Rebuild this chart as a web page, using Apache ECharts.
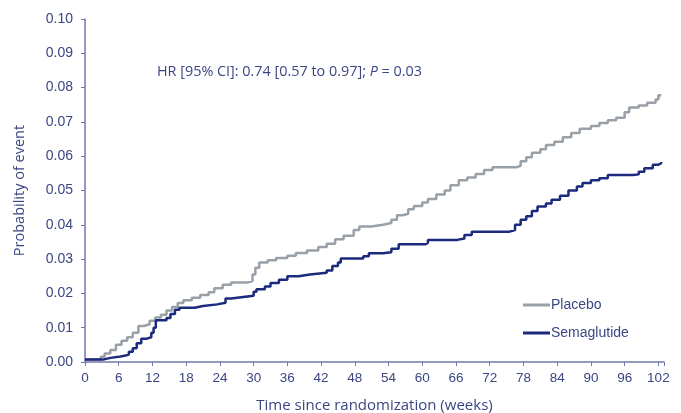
<!DOCTYPE html>
<html>
<head>
<meta charset="utf-8">
<script src="https://cdn.jsdelivr.net/npm/echarts@6/dist/echarts.min.js"></script>
<style>
html,body{margin:0;padding:0;background:#fff;}
#chart{width:681px;height:413px;}
</style>
</head>
<body>
<div id="chart"></div>
<script>
// Tick values
var xTicks = [0, 6, 12, 18, 24, 30, 36, 42, 48, 54, 60, 66, 72, 78, 84, 90, 96, 102];
var yTicks = [0.00, 0.01, 0.02, 0.03, 0.04, 0.05, 0.06, 0.07, 0.08, 0.09, 0.10];

// Placebo (Kaplan-Meier steps: week, cumulative probability)
var placeboWeeks = [0, 2.8, 3.5, 4.5, 5.5, 6.5, 7.5, 8.5, 9.5, 10.5, 11.5, 12.5, 13.5, 14.5, 15.5, 16.5, 17.5, 19, 20.5, 22, 23, 24.5, 26, 29, 29.8, 30.3, 31, 32.5, 34, 36, 37.5, 39.5, 41.5, 43, 44.5, 46, 47.8, 48.8, 51, 53, 54.5, 55.5, 56.5, 57.5, 58.5, 60, 61, 62.5, 64, 65, 66.5, 68, 69.5, 71, 72.5, 76.8, 77.5, 78.5, 79.5, 81, 82, 83.5, 85, 86.5, 88, 90, 91.5, 93, 94.5, 96, 96.8, 98.5, 100, 101.5, 102, 102.5];
var placeboProb = [0.0007, 0.0015, 0.0025, 0.0035, 0.0050, 0.0062, 0.0072, 0.0085, 0.0105, 0.0110, 0.0120, 0.0130, 0.0138, 0.0150, 0.0160, 0.0172, 0.0180, 0.0187, 0.0195, 0.0203, 0.0215, 0.0225, 0.0232, 0.0236, 0.0255, 0.0275, 0.0290, 0.0297, 0.0303, 0.0310, 0.0318, 0.0325, 0.0335, 0.0345, 0.0358, 0.0368, 0.0385, 0.0395, 0.0400, 0.0405, 0.0415, 0.0428, 0.0432, 0.0445, 0.0455, 0.0465, 0.0475, 0.0488, 0.0500, 0.0515, 0.0530, 0.0538, 0.0548, 0.0560, 0.0568, 0.0572, 0.0585, 0.0597, 0.0610, 0.0620, 0.0633, 0.0642, 0.0655, 0.0668, 0.0680, 0.0688, 0.0697, 0.0705, 0.0712, 0.0728, 0.0742, 0.0748, 0.0756, 0.0765, 0.0778, 0.0780];

// Semaglutide
var semaWeeks = [0, 3.2, 4.5, 6, 7, 7.8, 8.5, 9.2, 10, 11, 11.8, 12.2, 12.6, 14.5, 15.2, 16, 16.8, 19.5, 21, 23.5, 25, 26, 28.5, 30, 30.5, 32, 33, 34.5, 36, 38, 40, 43, 44, 45, 45.5, 49.5, 50.5, 53, 54.5, 55.8, 60.5, 61, 66.2, 67.5, 68.8, 75.5, 76.5, 77.5, 78.5, 79.5, 80.5, 82, 83, 84.5, 86, 87.5, 88.5, 90, 91.5, 93, 97.5, 98.5, 99.5, 101, 102, 102.5];
var semaProb = [0.0007, 0.0012, 0.0015, 0.0018, 0.0022, 0.0030, 0.0040, 0.0055, 0.0068, 0.0072, 0.0085, 0.0100, 0.0122, 0.0128, 0.0140, 0.0152, 0.0158, 0.0163, 0.0168, 0.0173, 0.0185, 0.0190, 0.0193, 0.0205, 0.0212, 0.0220, 0.0230, 0.0240, 0.0250, 0.0255, 0.0260, 0.0267, 0.0280, 0.0290, 0.0302, 0.0308, 0.0317, 0.0320, 0.0330, 0.0343, 0.0347, 0.0356, 0.0360, 0.0370, 0.0380, 0.0385, 0.0400, 0.0415, 0.0425, 0.0440, 0.0453, 0.0462, 0.0473, 0.0485, 0.0500, 0.0512, 0.0522, 0.0530, 0.0536, 0.0545, 0.0547, 0.0555, 0.0565, 0.0575, 0.0580, 0.0583];

var seriesNames = ['Placebo', 'Semaglutide'];
var annotation = 'HR [95% CI]: 0.74 [0.57 to 0.97]; ';

function pairs(xs, ys) { return xs.map(function (x, i) { return [x, ys[i]]; }); }

var textColor = '#3b4683';
var axisColor = '#7078ab';

var chart = echarts.init(document.getElementById('chart'), null, {renderer: 'canvas'});
chart.setOption({
  animation: false,
  backgroundColor: '#ffffff',
  grid: {left: 85, right: 17, top: 19, bottom: 51, containLabel: false, outerBoundsMode: 'none'},
  xAxis: {
    type: 'value',
    min: 0, max: 103, interval: 6,
    name: 'Time since randomization (weeks)',
    nameLocation: 'middle', nameGap: 36,
    nameTextStyle: {color: textColor, fontSize: 15, fontFamily: 'Open Sans'},
    axisLine: {show: true, lineStyle: {color: axisColor, width: 1.5}},
    axisTick: {show: true, length: 4, lineStyle: {color: axisColor}},
    splitLine: {show: false},
    axisLabel: {
      color: textColor, fontSize: 13.5, fontFamily: 'Liberation Sans', margin: 9,
      showMaxLabel: true,
      formatter: function (v) { return xTicks.indexOf(v) >= 0 ? String(v) : ''; }
    }
  },
  yAxis: {
    type: 'value',
    min: 0, max: 0.1, interval: 0.01,
    name: 'Probability of event',
    nameLocation: 'middle', nameGap: 58,
    nameTextStyle: {color: textColor, fontSize: 14.5, fontFamily: 'Open Sans'},
    axisLine: {show: true, lineStyle: {color: axisColor, width: 1.5}},
    axisTick: {show: true, length: 4, lineStyle: {color: axisColor}},
    splitLine: {show: false},
    axisLabel: {
      color: textColor, fontSize: 14, fontFamily: 'Liberation Sans', margin: 12,
      formatter: function (v) {
        var t = yTicks.find(function (y) { return Math.abs(y - v) < 1e-9; });
        return t === undefined ? '' : t.toFixed(2);
      }
    }
  },
  legend: {
    orient: 'vertical', left: 523, top: 297,
    itemWidth: 27, itemHeight: 3, itemGap: 12, padding: 0,
    textStyle: {color: textColor, fontSize: 14, lineHeight: 16, fontFamily: 'Liberation Sans', padding: [0, 0, 0, -4]},
    data: seriesNames.map(function (n) { return {name: n, icon: 'rect'}; })
  },
  graphic: [{
    type: 'text', left: 157, top: 65,
    style: {
      rich: {
        n: {fill: textColor, fontSize: 14.4, fontFamily: 'Open Sans'},
        i: {fill: textColor, fontSize: 14.4, fontFamily: 'Open Sans', fontStyle: 'italic'}
      },
      text: '{n|' + annotation + '}{i|P}{n| = 0.03}'
    }
  }],
  series: [
    {
      name: seriesNames[0], type: 'line', step: 'end', showSymbol: false, symbol: 'none',
      data: pairs(placeboWeeks, placeboProb),
      lineStyle: {color: '#99a0a8', width: 2.5},
      itemStyle: {color: '#99a0a8'}
    },
    {
      name: seriesNames[1], type: 'line', step: 'end', showSymbol: false, symbol: 'none',
      data: pairs(semaWeeks, semaProb),
      lineStyle: {color: '#1b2a7c', width: 2.5},
      itemStyle: {color: '#1b2a7c'}
    }
  ]
});
</script>
</body>
</html>
